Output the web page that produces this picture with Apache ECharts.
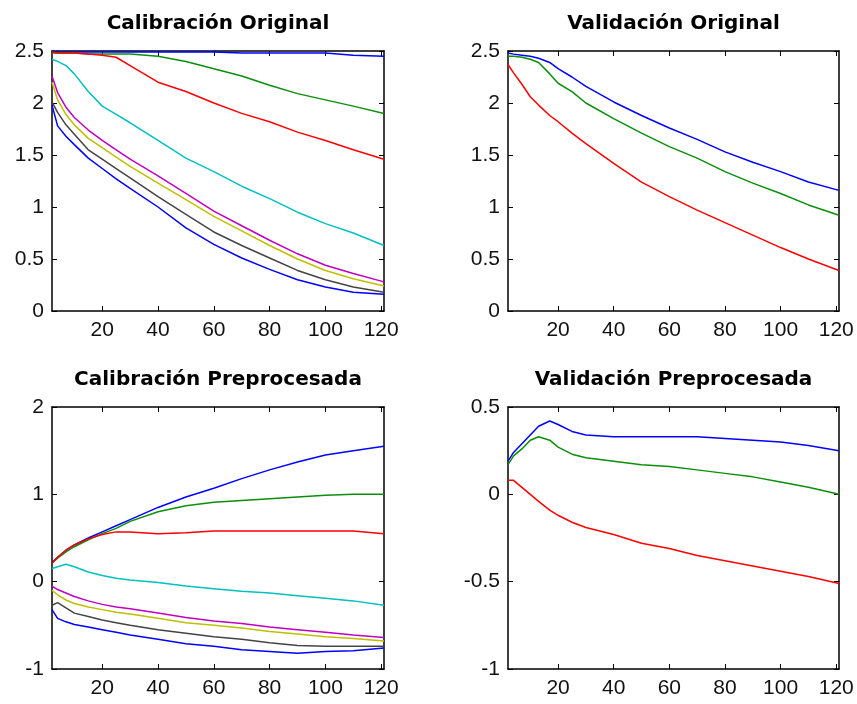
<!DOCTYPE html>
<html><head><meta charset="utf-8">
<script src="https://cdn.jsdelivr.net/npm/echarts@6/dist/echarts.min.js"></script>
<style>html,body{margin:0;padding:0;background:#fff}#c{width:857px;height:704px}</style>
</head><body><div id="c"></div>
<script>
// ---- titles & tick labels ----
const panelTitles = ['Calibración Original', 'Validación Original', 'Calibración Preprocesada', 'Validación Preprocesada'];
const xTicks = [20, 40, 60, 80, 100, 120];

// ---- x samples ----
const xCal = [2, 4, 7, 10, 15, 20, 25, 30, 40, 50, 60, 70, 80, 90, 100, 110, 121];
const xVal = [2, 4, 7, 10, 13, 17, 20, 25, 30, 40, 50, 60, 70, 80, 90, 100, 110, 121];

// ---- Calibración Original (8 series) ----
const calOrig1 = [2.49, 2.49, 2.49, 2.49, 2.49, 2.49, 2.49, 2.49, 2.49, 2.49, 2.49, 2.48, 2.48, 2.48, 2.48, 2.46, 2.45];
const calOrig2 = [2.48, 2.48, 2.48, 2.48, 2.47, 2.47, 2.47, 2.47, 2.45, 2.40, 2.33, 2.26, 2.17, 2.09, 2.03, 1.97, 1.90];
const calOrig3 = [2.49, 2.48, 2.48, 2.48, 2.47, 2.46, 2.44, 2.36, 2.20, 2.11, 2.00, 1.90, 1.82, 1.72, 1.64, 1.55, 1.46];
const calOrig4 = [2.42, 2.40, 2.36, 2.28, 2.11, 1.97, 1.89, 1.81, 1.64, 1.47, 1.34, 1.20, 1.08, 0.95, 0.84, 0.75, 0.63];
const calOrig5 = [2.26, 2.10, 1.96, 1.86, 1.74, 1.64, 1.55, 1.46, 1.30, 1.13, 0.96, 0.82, 0.68, 0.55, 0.44, 0.36, 0.28];
const calOrig6 = [2.20, 2.03, 1.89, 1.79, 1.66, 1.57, 1.48, 1.39, 1.23, 1.07, 0.91, 0.77, 0.63, 0.50, 0.39, 0.31, 0.24];
const calOrig7 = [2.01, 1.91, 1.79, 1.70, 1.55, 1.46, 1.37, 1.28, 1.10, 0.93, 0.76, 0.63, 0.51, 0.39, 0.30, 0.23, 0.18];
const calOrig8 = [1.98, 1.78, 1.68, 1.60, 1.47, 1.37, 1.27, 1.18, 1.00, 0.80, 0.64, 0.51, 0.40, 0.30, 0.23, 0.18, 0.16];

// ---- Validación Original (3 series) ----
const valOrig1 = [2.48, 2.47, 2.46, 2.45, 2.43, 2.39, 2.33, 2.25, 2.16, 2.01, 1.88, 1.76, 1.65, 1.53, 1.43, 1.34, 1.24, 1.16];
const valOrig2 = [2.45, 2.45, 2.44, 2.42, 2.39, 2.28, 2.19, 2.11, 2.00, 1.85, 1.71, 1.58, 1.47, 1.34, 1.23, 1.13, 1.02, 0.92];
const valOrig3 = [2.37, 2.29, 2.18, 2.06, 1.98, 1.88, 1.82, 1.71, 1.61, 1.42, 1.24, 1.10, 0.97, 0.85, 0.73, 0.61, 0.50, 0.39];

// ---- Calibración Preprocesada (8 series) ----
const calPre1 = [0.22, 0.28, 0.36, 0.42, 0.50, 0.57, 0.64, 0.71, 0.85, 0.97, 1.07, 1.18, 1.28, 1.37, 1.45, 1.50, 1.55];
const calPre2 = [0.21, 0.27, 0.34, 0.40, 0.48, 0.55, 0.61, 0.69, 0.80, 0.87, 0.91, 0.93, 0.95, 0.97, 0.99, 1.00, 1.00];
const calPre3 = [0.21, 0.28, 0.36, 0.42, 0.49, 0.54, 0.57, 0.57, 0.55, 0.56, 0.58, 0.58, 0.58, 0.58, 0.58, 0.58, 0.55];
const calPre4 = [0.15, 0.17, 0.20, 0.17, 0.11, 0.07, 0.04, 0.02, -0.01, -0.05, -0.08, -0.11, -0.13, -0.16, -0.19, -0.22, -0.27];
const calPre5 = [-0.05, -0.09, -0.13, -0.17, -0.22, -0.26, -0.29, -0.31, -0.36, -0.41, -0.45, -0.48, -0.52, -0.55, -0.58, -0.61, -0.64];
const calPre6 = [-0.10, -0.15, -0.21, -0.25, -0.29, -0.32, -0.35, -0.37, -0.42, -0.47, -0.50, -0.53, -0.57, -0.60, -0.63, -0.65, -0.68];
const calPre7 = [-0.27, -0.24, -0.30, -0.36, -0.40, -0.44, -0.47, -0.50, -0.55, -0.59, -0.63, -0.66, -0.70, -0.73, -0.74, -0.74, -0.74];
const calPre8 = [-0.32, -0.42, -0.46, -0.49, -0.52, -0.55, -0.58, -0.61, -0.66, -0.71, -0.74, -0.78, -0.80, -0.82, -0.80, -0.79, -0.76];

// ---- Validación Preprocesada (3 series) ----
const valPre1 = [0.19, 0.24, 0.29, 0.34, 0.39, 0.42, 0.40, 0.36, 0.34, 0.33, 0.33, 0.33, 0.33, 0.32, 0.31, 0.30, 0.28, 0.25];
const valPre2 = [0.17, 0.22, 0.26, 0.31, 0.33, 0.31, 0.27, 0.23, 0.21, 0.19, 0.17, 0.16, 0.14, 0.12, 0.10, 0.07, 0.04, 0.00];
const valPre3 = [0.08, 0.08, 0.04, 0.00, -0.04, -0.09, -0.12, -0.16, -0.19, -0.23, -0.28, -0.31, -0.35, -0.38, -0.41, -0.44, -0.47, -0.51];

// ---- styles ----
const lineColors = ['#0000ff', '#0a8f0a', '#ff0000', '#00c0c0', '#c000c0', '#bfbf00', '#444444', '#0000ff'];

const panels = [
  {title: panelTitles[0], x: xCal, ys: [calOrig1, calOrig2, calOrig3, calOrig4, calOrig5, calOrig6, calOrig7, calOrig8], min: 0, max: 2.5, step: 0.5,
   grid: {left: 52, top: 51, width: 332, height: 260}},
  {title: panelTitles[1], x: xVal, ys: [valOrig1, valOrig2, valOrig3], min: 0, max: 2.5, step: 0.5,
   grid: {left: 508, top: 51, width: 331, height: 260}},
  {title: panelTitles[2], x: xCal, ys: [calPre1, calPre2, calPre3, calPre4, calPre5, calPre6, calPre7, calPre8], min: -1, max: 2, step: 1,
   grid: {left: 52, top: 407, width: 332, height: 262}},
  {title: panelTitles[3], x: xVal, ys: [valPre1, valPre2, valPre3], min: -1, max: 0.5, step: 0.5,
   grid: {left: 508, top: 407, width: 331, height: 262}}
];

const labelFont = {fontFamily: 'Liberation Sans', fontSize: 21, color: '#111'};
const axisLine = {show: true, onZero: false, lineStyle: {color: '#000', width: 1.5}};
const tick = {show: true, inside: true, length: 5, lineStyle: {color: '#000', width: 1}};

const grids = [], xAxes = [], yAxes = [], series = [], graphics = [];
panels.forEach((p, i) => {
  grids.push(Object.assign({containLabel: false, outerBoundsMode: 'none'}, p.grid));
  xAxes.push({type: 'value', gridIndex: i, position: 'bottom', min: 2, max: 121,
    axisLine: axisLine, axisTick: Object.assign({customValues: xTicks}, tick),
    axisLabel: Object.assign({customValues: xTicks, margin: 9}, labelFont), splitLine: {show: false}});
  xAxes.push({type: 'value', gridIndex: i, position: 'top', min: 2, max: 121,
    axisLine: axisLine, axisTick: Object.assign({customValues: xTicks}, tick),
    axisLabel: {show: false}, splitLine: {show: false}});
  yAxes.push({type: 'value', gridIndex: i, position: 'left', min: p.min, max: p.max, interval: p.step,
    axisLine: axisLine, axisTick: tick, axisLabel: Object.assign({margin: 8}, labelFont), splitLine: {show: false}});
  yAxes.push({type: 'value', gridIndex: i, position: 'right', min: p.min, max: p.max, interval: p.step,
    axisLine: axisLine, axisTick: tick, axisLabel: {show: false}, splitLine: {show: false}});
  p.ys.forEach((vals, j) => {
    series.push({type: 'line', xAxisIndex: 2 * i, yAxisIndex: 2 * i, showSymbol: false, symbol: 'none',
      data: p.x.map((xv, k) => [xv, vals[k]]), color: lineColors[j],
      lineStyle: {color: lineColors[j], width: 1.5}, silent: true, z: 2});
  });
  graphics.push({type: 'text', x: p.grid.left + p.grid.width / 2, y: p.grid.top - 27,
    style: {text: p.title, fill: '#000', font: 'bold 20px "DejaVu Sans"', textAlign: 'center', textVerticalAlign: 'middle'}});
});

const chart = echarts.init(document.getElementById('c'), null, {renderer: 'canvas'});
chart.setOption({
  animation: false, backgroundColor: '#fff',
  grid: grids, xAxis: xAxes, yAxis: yAxes, series: series, graphic: graphics
});
</script>
</body></html>
